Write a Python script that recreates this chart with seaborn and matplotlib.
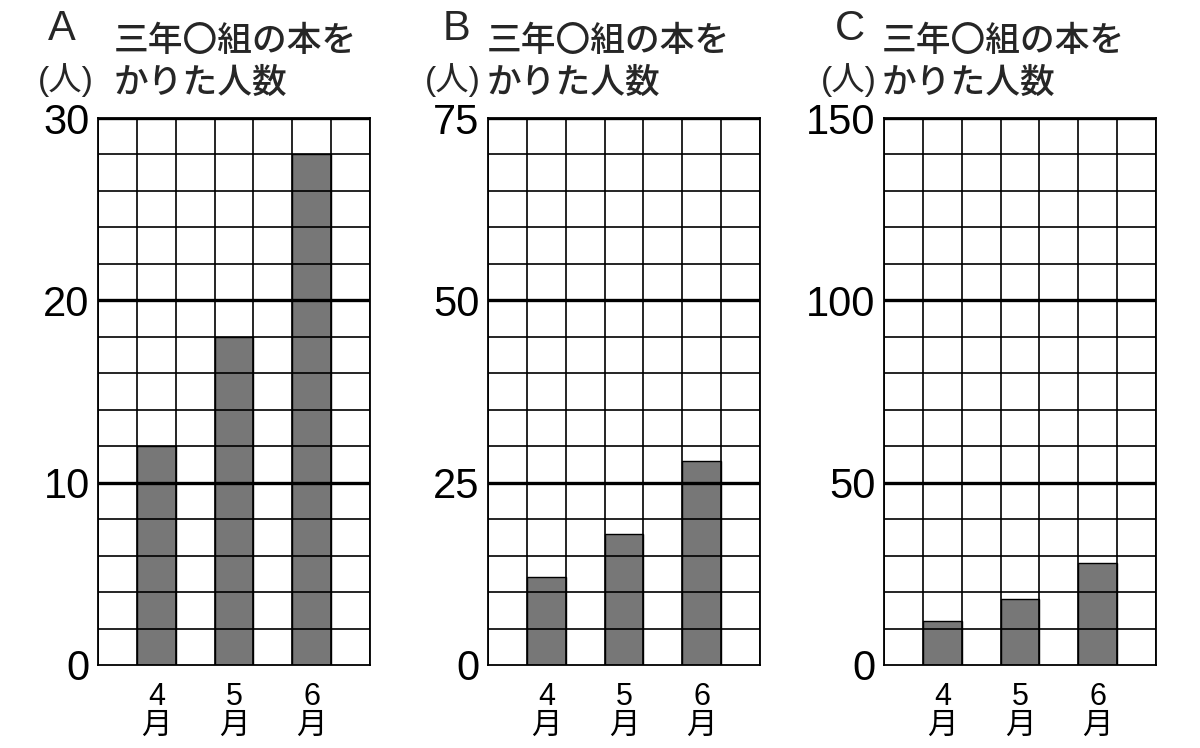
import numpy as np
import pandas as pd
import matplotlib
matplotlib.use("Agg")
import matplotlib.pyplot as plt
import seaborn as sns

sns.set_theme(style="white")
plt.rcParams['font.family'] = ['Liberation Sans', 'Noto Sans CJK JP', 'DejaVu Sans']

# data
panels = ["A", "B", "C"]
y_max = [30, 75, 150]
months = ["4\n月", "5\n月", "6\n月"]
borrowed = [12, 18, 28]
title = "三年〇組の本を\nかりた人数"
unit = "(人)"

df = pd.DataFrame({"month": months, "count": borrowed})
# 7 columns on the grid, bars in every other column
order = ["pad0", months[0], "pad1", months[1], "pad2", months[2], "pad3"]

W, H = 1200, 748
fig = plt.figure(figsize=(12, 7.48), dpi=100)

ax_left = [98, 488, 884]
ax_w = 272
ax_top, ax_bot = 118, 665
title_x = [114, 487, 882]
letter_x = [62, 456, 850]
unit_x = [66, 453, 849]

for i, name in enumerate(panels):
    ax = fig.add_axes([ax_left[i] / W, (H - ax_bot) / H, ax_w / W, (ax_bot - ax_top) / H])
    sns.barplot(data=df, x="month", y="count", order=order, color="#777777",
                width=1.0, edgecolor="black", linewidth=1.0, saturation=1, ax=ax)
    ymax = y_max[i]
    ax.set_xlim(-0.5, 6.5)
    ax.set_ylim(0, ymax)
    ax.set_axisbelow(False)

    # fine grid
    ax.set_xticks(np.arange(-0.5, 7, 1), minor=True)
    ax.set_yticks(np.linspace(0, ymax, 16), minor=True)
    ax.grid(which="minor", color="black", linewidth=1.2)
    ax.grid(which="major", visible=False)
    for v in np.linspace(0, ymax, 4)[1:]:
        ax.axhline(v, color="black", linewidth=2.4, zorder=3)

    ax.set_yticks(np.linspace(0, ymax, 4))
    ax.set_yticklabels([str(int(v)) for v in np.linspace(0, ymax, 4)], fontsize=30)
    ax.set_xticks([1, 3, 5])
    ax.set_xticklabels(months, fontsize=22, linespacing=0.95)
    ax.tick_params(which="both", length=0)
    ax.tick_params(axis="y", pad=6, colors="black")
    ax.tick_params(axis="x", pad=12, colors="black")
    ax.set_xlabel("")
    ax.set_ylabel("")
    for s in ax.spines.values():
        s.set_visible(True)
        s.set_color("black")
        s.set_linewidth(1.3)
        s.set_zorder(3)

    fig.text(letter_x[i] / W, 1 - 29 / H, name, fontsize=30, ha="center", va="center")
    fig.text(title_x[i] / W, 1 - 62 / H, title, fontsize=25, ha="left", va="center",
             linespacing=1.2, family=['Noto Sans CJK JP'], fontweight="medium")
    fig.text(unit_x[i] / W, 1 - 80 / H, unit, fontsize=24, ha="center", va="center")

fig.savefig("out.png", dpi=100, facecolor="white")
